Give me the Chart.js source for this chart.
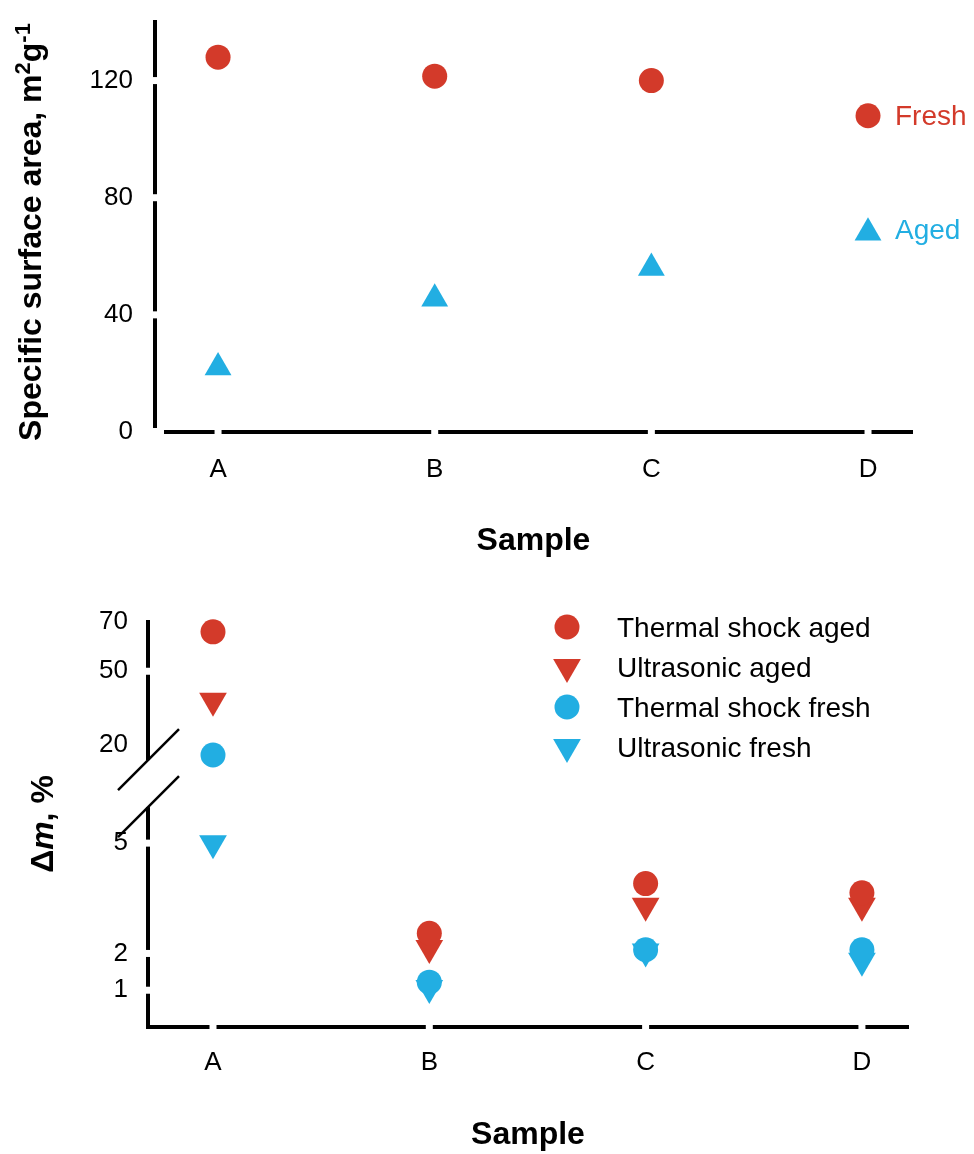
<!DOCTYPE html>
<html>
<head>
<meta charset="utf-8">
<title>Specific surface area and mass loss</title>
<script src="https://cdn.jsdelivr.net/npm/chart.js@4.4.1/dist/chart.umd.min.js"></script>
<style>
  html, body { margin: 0; padding: 0; background: #fff; }
  .panel { position: absolute; left: 0; width: 974px; }
  #panelArea { top: 0; height: 560px; }
  #panelLoss { top: 560px; height: 594px; }
</style>
</head>
<body>
<div class="panel" id="panelArea"><canvas id="areaChart"></canvas></div>
<div class="panel" id="panelLoss"><canvas id="lossChart"></canvas></div>
<script>
// samples along the x axis
const samples = ['A', 'B', 'C', 'D'];

// specific surface area, m2/g (nothing measured for D)
const freshArea = [128, 121.5, 120];
const agedArea = [22, 45.5, 56];
const areaTicks = [0, 40, 80, 120];

// mass loss, %
const thermalShockAged = [66, 2.55, 3.9, 3.65];
const ultrasonicAged = [38, 2.15, 3.3, 3.3];
const thermalShockFresh = [16, 1.22, 2.1, 2.1];
const ultrasonicFresh = [5, 1.06, 2.05, 1.8];
const lossTicks = [1, 2, 5, 20, 50, 70];

const FONT = '"Liberation Sans", Arial, Helvetica, sans-serif';
const RED = '#d33a2a';
const BLUE = '#22aee2';

Chart.defaults.font.family = FONT;
Chart.defaults.color = '#000';

const toPoints = vals => vals.map((v, i) => ({ x: i, y: v }));

// same shapes as chart.js point styles, used for the legends
function drawMarker(ctx, style, x, y, r, rotation, color) {
  ctx.save();
  ctx.fillStyle = color;
  ctx.beginPath();
  if (style === 'triangle') {
    let rad = rotation * Math.PI / 180;
    for (let k = 0; k < 3; k++) {
      const px = x + Math.sin(rad) * r, py = y - Math.cos(rad) * r;
      if (k === 0) ctx.moveTo(px, py); else ctx.lineTo(px, py);
      rad += 2 * Math.PI / 3;
    }
    ctx.closePath();
  } else {
    ctx.arc(x, y, r, 0, Math.PI * 2);
  }
  ctx.fill();
  ctx.restore();
}

// linear axis cut into pieces: [fromValue, toValue, fromDecimal, toDecimal]
class BrokenScale extends Chart.LinearScale {
  static id = 'broken';

  toDecimal(v) {
    const segs = this.options.segments;
    for (let i = 0; i < segs.length; i++) {
      const [v0, v1, d0, d1] = segs[i];
      const next = segs[i + 1];
      if (v <= v1 || !next) return d0 + (v - v0) / (v1 - v0) * (d1 - d0);
      if (v < next[0]) return d1 + (v - v1) / (next[0] - v1) * (next[2] - d1);
    }
    return 0;
  }

  fromDecimal(d) {
    const segs = this.options.segments;
    for (let i = 0; i < segs.length; i++) {
      const [v0, v1, d0, d1] = segs[i];
      const next = segs[i + 1];
      if (d <= d1 || !next) return v0 + (d - d0) / (d1 - d0) * (v1 - v0);
      if (d < next[2]) return v1 + (d - d1) / (next[2] - d1) * (next[0] - v1);
    }
    return 0;
  }

  getPixelForValue(value) {
    return value === null ? NaN : this.getPixelForDecimal(this.toDecimal(value));
  }

  getValueForPixel(pixel) {
    return this.fromDecimal(this.getDecimalForPixel(pixel));
  }
}
Chart.register(BrokenScale);

function sampleAxis(min, max, height, pad) {
  return {
    type: 'linear',
    min: min,
    max: max,
    afterBuildTicks: s => { s.ticks = samples.map((_, i) => ({ value: i })); },
    afterFit: s => { s.height = height; s.paddingLeft = 0; s.paddingRight = 0; },
    ticks: { callback: v => samples[v], font: { size: 26 }, padding: pad, autoSkip: false, maxRotation: 0 },
    grid: { drawOnChartArea: false, drawTicks: false, color: 'rgba(0,0,0,0)' },
    border: { color: '#000', width: 4 },
    title: { display: true, text: 'Sample', font: { size: 32, weight: 'bold' }, padding: 0 }
  };
}

function valueAxis(extra, tickValues, width, pad) {
  return Object.assign({
    afterBuildTicks: s => { s.ticks = tickValues.map(v => ({ value: v })); },
    afterFit: s => { s.width = width; s.paddingTop = 0; s.paddingBottom = 0; },
    ticks: { callback: v => String(v), font: { size: 26 }, padding: pad, autoSkip: false },
    grid: { drawOnChartArea: false, drawTicks: false, color: 'rgba(0,0,0,0)' },
    border: { color: '#000', width: 4 }
  }, extra);
}

// white cuts through the axis lines at the ticks, plus the axis break
function axisGaps(cfg) {
  return {
    id: 'axisGaps',
    afterDraw(chart) {
      const ctx = chart.ctx;
      const { left, bottom } = chart.chartArea;
      const xs = chart.scales.x, ys = chart.scales.y;
      ctx.save();
      ctx.fillStyle = '#fff';
      cfg.x.forEach(v => { const px = xs.getPixelForValue(v); ctx.fillRect(px - 3.5, bottom - 4, 7, 8); });
      cfg.y.forEach(v => { const py = ys.getPixelForValue(v); ctx.fillRect(left - 4, py - 3.5, 8, 7); });
      if (cfg.corner) ctx.fillRect(left - 4, bottom - 4, 13, 8);
      if (cfg.breakAt) {
        const top = ys.getPixelForDecimal(cfg.breakAt[1]);
        const bot = ys.getPixelForDecimal(cfg.breakAt[0]);
        ctx.fillRect(left - 4, top, 8, bot - top);
        ctx.strokeStyle = '#000';
        ctx.lineWidth = 2.5;
        [top, bot].forEach(py => {
          ctx.beginPath();
          ctx.moveTo(left - 30, py + 30);
          ctx.lineTo(left + 31, py - 31);
          ctx.stroke();
        });
      }
      ctx.restore();
    }
  };
}

function sideLegend(cfg) {
  return {
    id: 'sideLegend',
    afterDraw(chart) {
      const ctx = chart.ctx;
      chart.data.datasets.forEach((ds, i) => {
        const p = cfg.place(chart, i);
        drawMarker(ctx, ds.pointStyle, p.x, p.y, ds.pointRadius, ds.pointRotation || 0, ds.pointBackgroundColor);
        ctx.save();
        ctx.font = '28px ' + FONT;
        ctx.fillStyle = cfg.textColor || ds.pointBackgroundColor;
        ctx.textBaseline = 'alphabetic';
        ctx.fillText(ds.label, p.x + cfg.gap, p.y + 10 + cfg.shift[i]);
        ctx.restore();
      });
    }
  };
}

// rotated y title, parts can be superscript or italic
function yTitle(cfg) {
  return {
    id: 'yTitle',
    afterDraw(chart) {
      const ctx = chart.ctx;
      const fontOf = p => (p.italic ? 'italic ' : '') + 'bold ' + (p.sup ? 22 : 32) + 'px ' + FONT;
      ctx.save();
      ctx.translate(cfg.x, cfg.y);
      ctx.rotate(-Math.PI / 2);
      ctx.fillStyle = '#000';
      ctx.textBaseline = 'alphabetic';
      let total = 0;
      cfg.parts.forEach(p => { ctx.font = fontOf(p); total += ctx.measureText(p.text).width; });
      let cx = -total / 2;
      cfg.parts.forEach(p => {
        ctx.font = fontOf(p);
        ctx.fillText(p.text, cx, p.sup ? -11 : 0);
        cx += ctx.measureText(p.text).width;
      });
      ctx.restore();
    }
  };
}

const baseOptions = {
  responsive: true,
  maintainAspectRatio: false,
  animation: false,
  events: [],
  elements: { point: { borderWidth: 0, hoverRadius: 0, hoverBorderWidth: 0 } },
  plugins: { legend: { display: false }, tooltip: { enabled: false } }
};

// top: specific surface area
new Chart(document.getElementById('areaChart'), {
  type: 'scatter',
  data: {
    datasets: [
      { label: 'Fresh', data: toPoints(freshArea), pointStyle: 'circle', pointRadius: 12.5, pointBackgroundColor: RED, clip: false },
      { label: 'Aged', data: toPoints(agedArea), pointStyle: 'triangle', pointRadius: 15.5, pointBackgroundColor: BLUE, clip: false }
    ]
  },
  options: Object.assign({}, baseOptions, {
    layout: { padding: { top: 22, right: 62, left: 0, bottom: 0 } },
    scales: {
      x: sampleAxis(-0.291, 3.203, 128, 22),
      y: valueAxis({ type: 'linear', min: 0, max: 140 }, areaTicks, 155, 22)
    }
  }),
  plugins: [
    axisGaps({ x: [0, 1, 2, 3], y: [40, 80, 120], corner: true }),
    sideLegend({
      place: (chart, i) => ({ x: chart.scales.x.getPixelForValue(3), y: chart.scales.y.getPixelForValue([108, 68][i]) }),
      gap: 27,
      shift: [-1, -4]
    }),
    yTitle({
      x: 41, y: 232,
      parts: [{ text: 'Specific surface area, m' }, { text: '2', sup: true }, { text: 'g' }, { text: '-1', sup: true }]
    })
  ]
});

// bottom: mass loss with a broken y axis (lower piece 0-5, upper piece from 10 up)
new Chart(document.getElementById('lossChart'), {
  type: 'scatter',
  data: {
    datasets: [
      { label: 'Thermal shock aged', data: toPoints(thermalShockAged), pointStyle: 'circle', pointRadius: 12.5, pointBackgroundColor: RED, clip: false },
      { label: 'Ultrasonic aged', data: toPoints(ultrasonicAged), pointStyle: 'triangle', pointRotation: 180, pointRadius: 16, pointBackgroundColor: RED, clip: false },
      { label: 'Thermal shock fresh', data: toPoints(thermalShockFresh), pointStyle: 'circle', pointRadius: 12.5, pointBackgroundColor: BLUE, clip: false },
      { label: 'Ultrasonic fresh', data: toPoints(ultrasonicFresh), pointStyle: 'triangle', pointRotation: 180, pointRadius: 16, pointBackgroundColor: BLUE, clip: false }
    ]
  },
  options: Object.assign({}, baseOptions, {
    layout: { padding: { top: 62, right: 66, left: 0, bottom: 0 } },
    scales: {
      x: sampleAxis(-0.3005, 3.213, 127, 20),
      y: valueAxis({ type: 'broken', min: 0, max: 70, segments: [[0, 5, 0, 0.454], [10, 70, 0.6352, 1]] }, lossTicks, 148, 20)
    }
  }),
  plugins: [
    axisGaps({ x: [0, 1, 2, 3], y: [1, 2, 5, 50], breakAt: [0.543, 0.659] }),
    sideLegend({
      place: (chart, i) => ({ x: chart.chartArea.left + 419, y: chart.chartArea.top + 5 + 40 * i }),
      gap: 50,
      textColor: '#000',
      shift: [0, 0, 0, 0]
    }),
    yTitle({
      x: 53, y: 264,
      parts: [{ text: '\u0394' }, { text: 'm', italic: true }, { text: ', %' }]
    })
  ]
});
</script>
</body>
</html>
